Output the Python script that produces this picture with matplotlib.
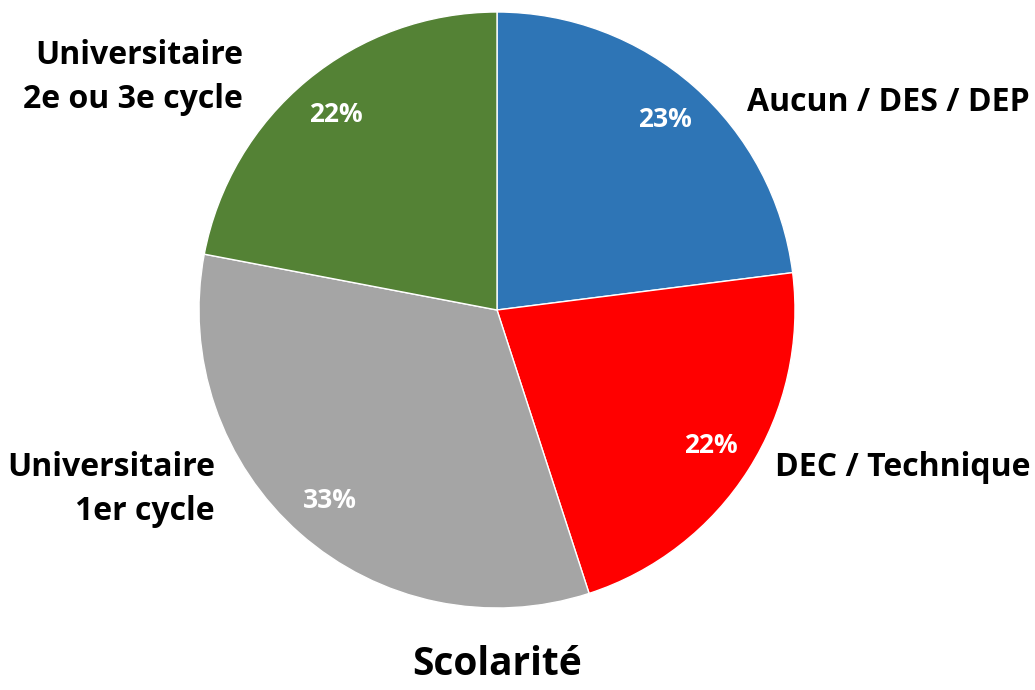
import matplotlib
matplotlib.use("Agg")
import matplotlib.pyplot as plt
import numpy as np

# data
categories = ["Aucun / DES / DEP", "DEC / Technique", "Universitaire\n1er cycle", "Universitaire\n2e ou 3e cycle"]
shares = [23, 22, 33, 22]
colors = ["#2E75B6", "#FF0000", "#A5A5A5", "#548235"]

plt.rcParams['font.family'] = ['Open Sans', 'DejaVu Sans']

fig = plt.figure(figsize=(10.35, 6.9), dpi=100)
ax = fig.add_axes([0, 0, 1, 1])

wedges, texts = ax.pie(shares, colors=colors, startangle=90, counterclock=False,
                       radius=1.0, wedgeprops=dict(edgecolor="white", linewidth=1))

# percentage labels inside the slices
total = sum(shares)
for w, v in zip(wedges, shares):
    ang = np.deg2rad((w.theta1 + w.theta2) / 2)
    ax.text(0.85 * np.cos(ang), 0.85 * np.sin(ang), "%d%%" % round(100 * v / total),
            ha="center", va="center", color="white", fontsize=19, fontweight="bold")

# category labels
lab_kw = dict(fontsize=23, fontweight="bold", color="black", linespacing=1.45)
ax.text(0.84, 0.695, categories[0], ha="left", va="center", **lab_kw)
ax.text(0.933, -0.527, categories[1], ha="left", va="center", **lab_kw)
ax.text(-0.946, -0.602, categories[2], ha="right", va="center", multialignment="right", **lab_kw)
ax.text(-0.852, 0.78, categories[3], ha="right", va="center", multialignment="right", **lab_kw)

ax.text(0, -1.19, "Scolarité", ha="center", va="center", fontsize=28, fontweight="bold")

ax.set_aspect("auto")
ax.set_xlim(-497 / 298, (1035 - 497) / 298)
ax.set_ylim(-380 / 298, 310 / 298)
ax.axis("off")

fig.savefig("out.png", dpi=100)
